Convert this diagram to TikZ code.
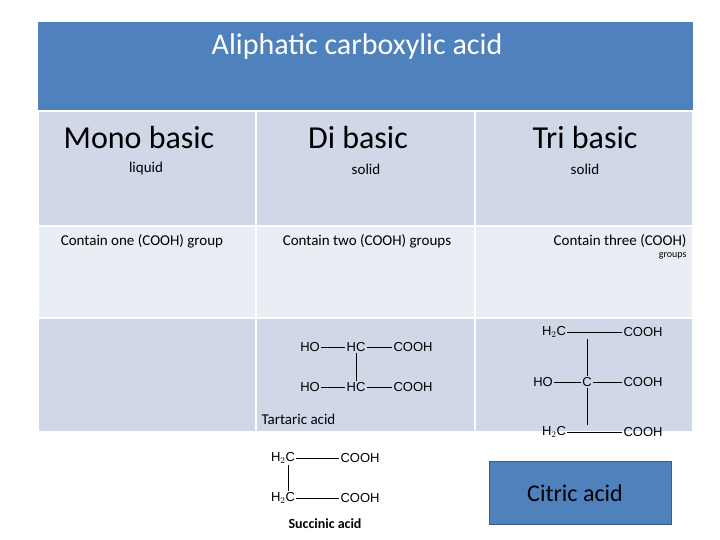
\documentclass[tikz,border=0pt]{standalone}
\usepackage{fontspec}
\setmainfont{Carlito}
\newfontfamily\chem{Liberation Sans}
\definecolor{hdr}{HTML}{4F81BD}
\definecolor{rowa}{HTML}{D0D8E8}
\definecolor{rowb}{HTML}{E9EDF4}
\definecolor{bord}{HTML}{385D8A}
\begin{document}
\begin{tikzpicture}[x=1pt,y=-1pt,
  cell/.style={draw=white,line width=2pt},
  ch/.style={font=\chem\fontsize{13}{13}\selectfont,inner sep=1pt},
  bond/.style={line width=0.8pt}]
\useasboundingbox (0,0) rectangle (720,540);
% header
\fill[hdr] (38,22) rectangle (693,110);
\node (title) at (357,47) {\fontsize{30}{32}\selectfont\color{white}Aliphatic carboxylic acid};
% cells
\foreach \x/\xx in {38/256,256/475,475/693}{
  \filldraw[rowa,cell] (\x,111) rectangle (\xx,226);
  \filldraw[rowb,cell] (\x,226) rectangle (\xx,318);
  \filldraw[rowa,cell] (\x,318) rectangle (\xx,432);
}
\node (mono) at (139,138) {\fontsize{32}{34}\selectfont Mono basic};
\node (di) at (358,138) {\fontsize{32}{34}\selectfont Di basic};
\node (tri) at (585,138) {\fontsize{32}{34}\selectfont Tri basic};
\node (l1) at (146,169) {\fontsize{15}{17}\selectfont liquid};
\node (l2) at (366,169) {\fontsize{15}{17}\selectfont solid};
\node (l3) at (585,169) {\fontsize{15}{17}\selectfont solid};
\node (c1) at (142,241) {\fontsize{15}{17}\selectfont Contain one (COOH) group};
\node (c2) at (367,241) {\fontsize{15}{17}\selectfont Contain two (COOH) groups};
\node[align=right,anchor=north east] (c3) at (690,231) {\fontsize{15}{22}\selectfont Contain three (COOH)\\groups};
% tartaric
\node[ch] (tho1) at (310,347) {HO};
\node[ch] (thc1) at (356,347) {HC};
\node[ch] (tco1) at (413,347) {COOH};
\node[ch] (tho2) at (310,387) {HO};
\node[ch] (thc2) at (356,387) {HC};
\node[ch] (tco2) at (413,387) {COOH};
\draw[bond] (tho1)--(thc1) (thc1)--(tco1) (tho2)--(thc2) (thc2)--(tco2) (thc1)--(thc2);
\node[anchor=west] (tart) at (258,419) {\fontsize{15}{17}\selectfont Tartaric acid};
% citric
\node[ch] (ch1) at (554,332) {H$_2$C};
\node[ch] (cco1) at (643,332) {COOH};
\node[ch] (cho) at (543,382) {HO};
\node[ch] (cc) at (587,382) {C};
\node[ch] (cco2) at (643,382) {COOH};
\node[ch] (ch2) at (554,432) {H$_2$C};
\node[ch] (cco3) at (643,432) {COOH};
\draw[bond] (ch1)--(cco1) (cho)--(cc) (cc)--(cco2) (ch2)--(cco3);
\draw[bond] (cc.north) -- (cc.north |- ch1.south) (cc.south) -- (cc.south |- ch2.north);
% succinic
\node[ch] (sh1) at (283,458) {H$_2$C};
\node[ch] (sco1) at (360,458) {COOH};
\node[ch] (sh2) at (283,498) {H$_2$C};
\node[ch] (sco2) at (360,498) {COOH};
\draw[bond] (sh1)--(sco1) (sh2)--(sco2) ([xshift=5pt]sh1.south)--([xshift=5pt]sh1.south |- sh2.north);
\node (succ) at (325,524) {\fontsize{14}{16}\selectfont\bfseries Succinic acid};
% citric box
\node[draw=bord,line width=1.5pt,fill=hdr,minimum width=182pt,minimum height=63pt] (cbox) at (580.5,493) {};
\node (ctext) at (575,493) {\fontsize{24}{26}\selectfont Citric acid};
\end{tikzpicture}
\end{document}
